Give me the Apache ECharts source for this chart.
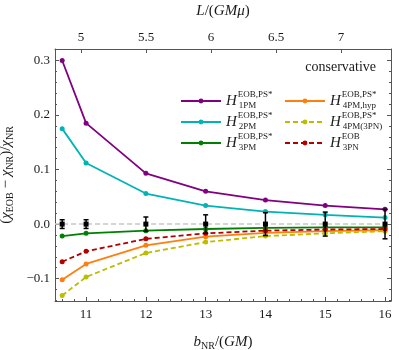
<!DOCTYPE html>
<html lang="en">
<head>
    <meta charset="UTF-8">
    <title>conservative scattering angle</title>
    <script src="https://cdn.jsdelivr.net/npm/echarts@6/dist/echarts.min.js"></script>
    <style type="text/css">
        html, body { margin: 0; height: 100%; background: #fff; }
        #chart { width: 399px; height: 350px; }
    </style>
</head>
<body>
    <div id="chart"></div>
    <script type="text/javascript">
        // impact parameter b_NR/(GM)
        var bNR = [10.6, 11, 12, 13, 14, 15, 16];
        // (chi_EOB - chi_NR)/chi_NR
        var h1PM = [0.300, 0.185, 0.093, 0.060, 0.044, 0.034, 0.027];
        var h2PM = [0.175, 0.112, 0.056, 0.034, 0.023, 0.017, 0.012];
        var h3PM = [-0.022, -0.017, -0.012, -0.009, -0.007, -0.006, -0.006];
        var h4PMhyp = [-0.102, -0.073, -0.039, -0.023, -0.016, -0.013, -0.011];
        var h4PM3PN = [-0.131, -0.097, -0.053, -0.033, -0.022, -0.017, -0.013];
        var h3PN = [-0.069, -0.050, -0.027, -0.017, -0.012, -0.010, -0.009];
        // NR error bars
        var nrErr = [0.008, 0.008, 0.013, 0.017, 0.021, 0.022, 0.027];

        // legend text pieces
        var seriesKeys = ['1PM', '2PM', '3PM', '4PMhyp', '4PM3PN', '3PN'];
        var legendSub = ['1PM', '2PM', '3PM', '4PM,hyp', '4PM(3PN)', '3PN'];
        var legendSup = ['EOB,PS*', 'EOB,PS*', 'EOB,PS*', 'EOB,PS*', 'EOB,PS*', 'EOB'];

        // axis ranges; L/(GM mu) is linear in b on this plot
        var bMin = 10.48, bMax = 16.1;
        var yMin = -0.141, yMax = 0.321;
        var lPerB = 0.4598, lOffset = -0.019;

        var FONT = 'Liberation Serif';
        var INK = '#1a1a1a';
        var FRAME = '#555';

        var chartDom = document.getElementById('chart');
        var myChart = echarts.init(chartDom);

        function pairs(ys) {
            return bNR.map(function (b, i) { return [b, ys[i]]; });
        }

        function legendText(name) {
            var i = seriesKeys.indexOf(name);
            return '{h|H}{sup|' + legendSup[i] + '}{sub|' + legendSub[i] + '}';
        }

        var legendRich = {
            h: { fontFamily: FONT, fontStyle: 'italic', fontSize: 15, lineHeight: 22, color: INK },
            sup: { fontFamily: FONT, fontSize: 9, verticalAlign: 'top', width: 0, color: INK, padding: [0, 0, 0, 1] },
            sub: { fontFamily: FONT, fontSize: 9, verticalAlign: 'bottom', color: INK, padding: [0, 0, 2, 1] }
        };

        var nameRich = {
            i: { fontFamily: FONT, fontStyle: 'italic', fontSize: 15, color: INK, lineHeight: 20 },
            r: { fontFamily: FONT, fontSize: 15, color: INK, lineHeight: 20 },
            s: { fontFamily: FONT, fontSize: 10, color: INK, verticalAlign: 'bottom', padding: [0, 0, 1, 0] }
        };

        function onGrid(v, step) {
            return Math.abs(v / step - Math.round(v / step)) < 1e-6;
        }

        function lineSeries(name, ys, color, dashed) {
            return {
                name: name,
                type: 'line',
                data: pairs(ys),
                symbol: 'circle',
                symbolSize: 5,
                showSymbol: true,
                color: color,
                lineStyle: { color: color, width: 1.8, type: dashed ? [5, 3] : 'solid' },
                itemStyle: { color: color },
                z: 3
            };
        }

        var frameLine = { onZero: false, lineStyle: { color: FRAME, width: 1 } };
        var majorTick = { inside: true, length: 4, lineStyle: { color: FRAME } };
        var minorTick = { show: true, splitNumber: 5, length: 2, lineStyle: { color: FRAME } };

        var option = {
            backgroundColor: '#fff',
            animation: false,
            textStyle: { fontFamily: FONT },
            title: {
                text: 'conservative',
                right: 18,
                top: 55,
                textStyle: { fontFamily: FONT, fontSize: 14, fontWeight: 'normal', color: INK }
            },
            grid: { left: 55, right: 8, top: 49, bottom: 49, outerBoundsMode: 'none', containLabel: false },
            legend: [
                {
                    data: seriesKeys.slice(0, 3),
                    orient: 'vertical',
                    left: 180, top: 90, padding: 0,
                    itemWidth: 40, itemHeight: 6, itemGap: 1,
                    formatter: legendText,
                    textStyle: { rich: legendRich }
                },
                {
                    data: seriesKeys.slice(3),
                    orient: 'vertical',
                    left: 284, top: 90, padding: 0,
                    itemWidth: 40, itemHeight: 6, itemGap: 1,
                    formatter: legendText,
                    textStyle: { rich: legendRich }
                }
            ],
            xAxis: [
                {
                    type: 'value', position: 'bottom',
                    min: bMin, max: bMax,
                    name: '{i|b}{s|NR}{r|/(}{i|GM}{r|)}',
                    nameLocation: 'middle', nameGap: 31,
                    nameTextStyle: { rich: nameRich },
                    splitLine: { show: false },
                    axisLine: frameLine,
                    axisTick: majorTick,
                    minorTick: minorTick,
                    axisLabel: {
                        margin: 7, fontFamily: FONT, fontSize: 13, color: INK,
                        formatter: function (v) { return onGrid(v, 1) ? String(v) : ''; }
                    }
                },
                {
                    type: 'value', position: 'top',
                    min: bMin * lPerB + lOffset, max: bMax * lPerB + lOffset,
                    name: '{i|L}{r|/(}{i|GMμ}{r|)}',
                    nameLocation: 'middle', nameGap: 28,
                    nameTextStyle: { rich: nameRich },
                    splitLine: { show: false },
                    axisLine: frameLine,
                    axisTick: majorTick,
                    axisLabel: {
                        margin: 5, fontFamily: FONT, fontSize: 13, color: INK,
                        formatter: function (v) { return onGrid(v, 0.5) ? String(+v.toFixed(1)) : ''; }
                    }
                }
            ],
            yAxis: [
                {
                    type: 'value', position: 'left',
                    min: yMin, max: yMax,
                    name: '{r|(}{i|χ}{s|EOB}{r| − }{i|χ}{s|NR}{r|)/}{i|χ}{s|NR}',
                    nameLocation: 'middle', nameGap: 32,
                    nameTextStyle: { rich: nameRich },
                    splitLine: { show: false },
                    axisLine: frameLine,
                    axisTick: majorTick,
                    minorTick: minorTick,
                    axisLabel: {
                        margin: 5, fontFamily: FONT, fontSize: 13, color: INK,
                        formatter: function (v) {
                            if (!onGrid(v, 0.1)) return '';
                            var s = v.toFixed(1);
                            return s.charAt(0) === '-' ? '\u2212' + s.slice(1) : s;
                        }
                    }
                },
                {
                    type: 'value', position: 'right',
                    min: yMin, max: yMax,
                    splitLine: { show: false },
                    axisLine: frameLine,
                    axisTick: majorTick,
                    minorTick: minorTick,
                    axisLabel: { show: false }
                }
            ],
            series: [
                Object.assign(lineSeries('1PM', h1PM, '#800080', false), {
                    markLine: {
                        silent: true,
                        symbol: 'none',
                        label: { show: false },
                        lineStyle: { color: '#c8c8c8', width: 1.5, type: [5, 3] },
                        data: [{ yAxis: 0 }],
                        z: 1
                    }
                }),
                lineSeries('2PM', h2PM, '#00b4b4', false),
                lineSeries('3PM', h3PM, '#008000', false),
                lineSeries('4PMhyp', h4PMhyp, '#ff7f0e', false),
                lineSeries('4PM3PN', h4PM3PN, '#bdbd00', true),
                lineSeries('3PN', h3PN, '#b00000', true),
                {
                    name: 'NR',
                    type: 'custom',
                    z: 5,
                    data: bNR.map(function (b, i) { return [b, 0, nrErr[i]]; }),
                    renderItem: function (params, api) {
                        var x = api.value(0), y = api.value(1), e = api.value(2);
                        var p = api.coord([x, y]);
                        var top = api.coord([x, y + e]);
                        var bot = api.coord([x, y - e]);
                        var st = { stroke: '#000', lineWidth: 1.5 };
                        return {
                            type: 'group',
                            children: [
                                { type: 'line', shape: { x1: p[0], y1: top[1], x2: p[0], y2: bot[1] }, style: st },
                                { type: 'line', shape: { x1: p[0] - 2.5, y1: top[1], x2: p[0] + 2.5, y2: top[1] }, style: st },
                                { type: 'line', shape: { x1: p[0] - 2.5, y1: bot[1], x2: p[0] + 2.5, y2: bot[1] }, style: st },
                                { type: 'rect', shape: { x: p[0] - 2.5, y: p[1] - 2.5, width: 5, height: 5 }, style: { fill: '#000' } }
                            ]
                        };
                    }
                }
            ]
        };

        myChart.setOption(option);
    </script>
</body>
</html>
